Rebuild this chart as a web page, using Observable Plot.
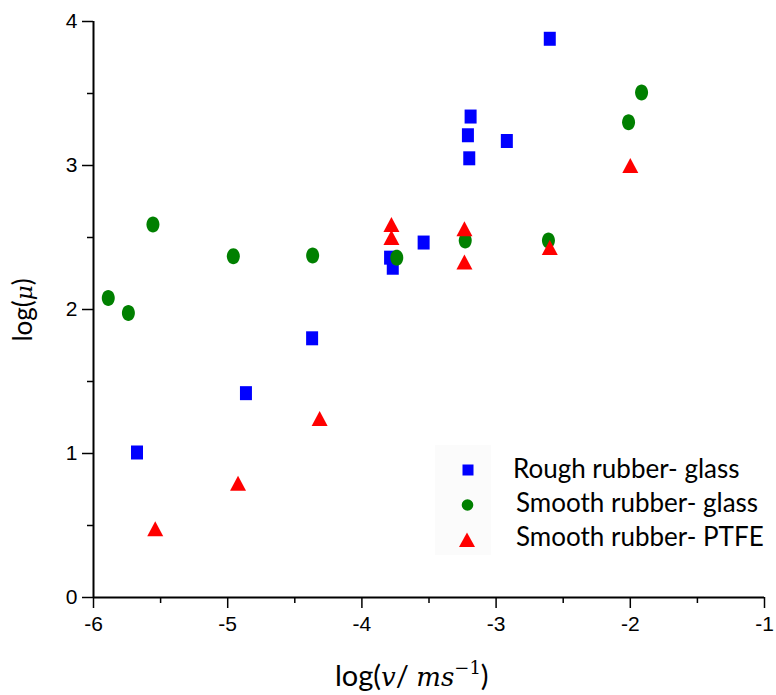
<!DOCTYPE html>
<html><head><meta charset="utf-8">
<script src="https://cdn.jsdelivr.net/npm/d3@7"></script>
<script src="https://cdn.jsdelivr.net/npm/@observablehq/plot@0.6"></script>
<style>
body{margin:0;background:#fff;}
#wrap{position:relative;width:776px;height:695px;overflow:hidden;}
#wrap svg{position:absolute;left:0;top:0;}
</style></head><body><div id="wrap"></div>
<script>
// Data
const roughX = [-5.676, -4.864, -4.371, -3.79, -3.77, -3.54, -3.19, -3.21, -3.20, -2.92, -2.60];
const roughY = [1.007, 1.419, 1.80, 2.36, 2.29, 2.465, 3.34, 3.21, 3.05, 3.17, 3.88];
const glassX = [-5.89, -5.74, -5.557, -4.958, -4.367, -3.74, -3.23, -2.61, -2.013, -1.916];
const glassY = [2.08, 1.975, 2.59, 2.37, 2.375, 2.36, 2.48, 2.48, 3.30, 3.507];
const ptfeX = [-5.54, -4.923, -4.315, -3.78, -3.78, -3.236, -3.236, -2.60, -2.00];
const ptfeY = [0.477, 0.794, 1.243, 2.59, 2.50, 2.56, 2.33, 2.43, 3.00];
const seriesNames = ["Rough rubber- glass", "Smooth rubber- glass", "Smooth rubber- PTFE"];
const seriesColors = ["#0000ff", "#008000", "#ff0000"];
const xTicks = [-6, -5, -4, -3, -2, -1];
const xMinor = [-5.5, -4.5, -3.5, -2.5, -1.5];
const yTicks = [0, 1, 2, 3, 4];
const yMinor = [0.5, 1.5, 2.5, 3.5];

const rows = (xs, ys) => xs.map((x, i) => ({x, y: ys[i]}));

const squareSym = {draw(c) { c.rect(-6, -7, 12, 14); }};
const ellipseSym = {draw(c) {
  const rx = 6.5, ry = 8, k = 0.5523;
  c.moveTo(rx, 0);
  c.bezierCurveTo(rx, ry * k, rx * k, ry, 0, ry);
  c.bezierCurveTo(-rx * k, ry, -rx, ry * k, -rx, 0);
  c.bezierCurveTo(-rx, -ry * k, -rx * k, -ry, 0, -ry);
  c.bezierCurveTo(rx * k, -ry, rx, -ry * k, rx, 0);
  c.closePath();
}};
const triSym = {draw(c) { c.moveTo(0, -7.5); c.lineTo(8, 7.5); c.lineTo(-8, 7.5); c.closePath(); }};

const font = "'Liberation Sans', Arial, sans-serif";
const plot = Plot.plot({
  width: 776, height: 695,
  marginLeft: 93, marginRight: 12, marginTop: 21, marginBottom: 98,
  style: {fontFamily: font, fontSize: "21px", background: "white", overflow: "visible"},
  x: {domain: [-6, -1]},
  y: {domain: [0, 4]},
  marks: [
    Plot.axisX({ticks: xMinor, tickSize: 6, text: null, strokeWidth: 1.5, label: null}),
    Plot.axisX({ticks: xTicks, tickSize: 11, tickPadding: 8, tickFormat: d => String(d), fontSize: 21, strokeWidth: 1.5, label: null}),
    Plot.axisY({ticks: yMinor, tickSize: 6, text: null, strokeWidth: 1.5, label: null}),
    Plot.axisY({ticks: yTicks, tickSize: 11, tickPadding: 5, tickFormat: d => String(d), fontSize: 21, strokeWidth: 1.5, label: null}),
    Plot.ruleY([0], {stroke: "black", strokeWidth: 2}),
    Plot.ruleX([-6], {stroke: "black", strokeWidth: 2}),
    Plot.dot(rows(roughX, roughY), {x: "x", y: "y", symbol: squareSym, fill: seriesColors[0], stroke: null}),
    Plot.dot(rows(glassX, glassY), {x: "x", y: "y", symbol: ellipseSym, fill: seriesColors[1], stroke: null}),
    Plot.dot(rows(ptfeX, ptfeY), {x: "x", y: "y", symbol: triSym, fill: seriesColors[2], stroke: null})
  ]
});
d3.select(plot).selectAll("text").style("font-size", "21px").style("font-family", font);
const wrap = document.getElementById("wrap");
wrap.appendChild(plot);

// Overlay: axis titles and legend
const ov = d3.select(wrap).append("svg").attr("width", 776).attr("height", 695)
  .style("pointer-events", "none");

const xl = ov.append("text").attr("x", 335).attr("y", 686)
  .attr("font-family", "Lato, 'Noto Sans', sans-serif").attr("font-size", 29).attr("fill", "#000");
xl.append("tspan").text("log(");
xl.append("tspan").attr("font-family", "'DejaVu Serif', serif").attr("font-style", "italic").attr("font-size", 26).text("v");
xl.append("tspan").text("/ ");
xl.append("tspan").attr("font-family", "'DejaVu Serif', serif").attr("font-style", "italic").attr("font-size", 26).text("ms");
xl.append("tspan").attr("font-family", "'DejaVu Serif', serif").attr("font-size", 18).attr("dy", -12).text("\u22121");
xl.append("tspan").attr("dy", 12).text(")");

const yl = ov.append("text").attr("transform", "translate(32,310) rotate(-90)").attr("text-anchor", "middle")
  .attr("font-family", "Lato, 'Noto Sans', sans-serif").attr("font-size", 26).attr("fill", "#000");
yl.append("tspan").text("log(");
yl.append("tspan").attr("font-family", "'DejaVu Serif', serif").attr("font-style", "italic").attr("font-size", 23).text("\u03bc");
yl.append("tspan").text(")");

// legend
ov.append("rect").attr("x", 435).attr("y", 445).attr("width", 56).attr("height", 110).attr("fill", "#fbfbfb");
const legMarkY = [470, 505, 540];
const legTextX = [513, 516, 516];
const legBase = [478, 512, 546];
const lg = ov.append("g");
lg.append("rect").attr("x", 462.5).attr("y", 464.5).attr("width", 11).attr("height", 11).attr("fill", seriesColors[0]);
lg.append("circle").attr("cx", 467.5).attr("cy", legMarkY[1]).attr("r", 5.8).attr("fill", seriesColors[1]);
lg.append("path").attr("d", `M467,${legMarkY[2]-7.5}L475,${legMarkY[2]+7}L459,${legMarkY[2]+7}Z`).attr("fill", seriesColors[2]);
seriesNames.forEach((n, i) => {
  lg.append("text").attr("x", legTextX[i]).attr("y", legBase[i])
    .attr("font-family", "Lato, 'Noto Sans', sans-serif").attr("font-size", 26).attr("fill", "#000").text(n);
});
</script></body></html>
